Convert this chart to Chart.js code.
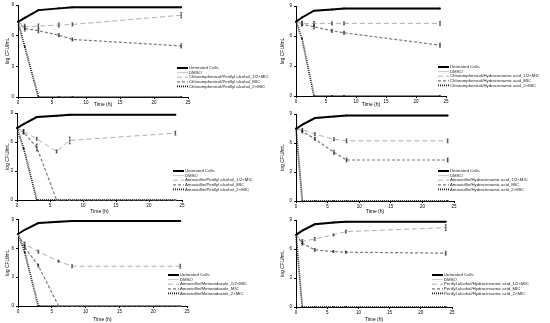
<!DOCTYPE html>
<html>
<head>
<meta charset="utf-8">
<script src="https://cdn.jsdelivr.net/npm/chart.js@4/dist/chart.umd.min.js"></script>
<style>
  body { margin: 0; background: #fff; }
  .p { position: absolute; }
</style>
</head>
<body>
<canvas class="p" id="c1" width="275" height="108" style="left:0;top:0"></canvas>
<canvas class="p" id="c2" width="275" height="108" style="left:275px;top:0"></canvas>
<canvas class="p" id="c3" width="275" height="107" style="left:0;top:108px"></canvas>
<canvas class="p" id="c4" width="275" height="107" style="left:275px;top:108px"></canvas>
<canvas class="p" id="c5" width="275" height="108" style="left:0;top:215px"></canvas>
<canvas class="p" id="c6" width="275" height="108" style="left:275px;top:215px"></canvas>
<script>
// sampling times (h) and axis ticks
const times = [0, 1, 3, 6, 8, 24];
const xTicks = [0, 5, 10, 15, 20, 25];
const yTicks = [0, 3, 6, 9];

const combos = [
  'Chloramphenicol/Perillyl alcohol',
  'Chloramphenicol/Hydrocinnamic acid',
  'Amoxicillin/Perillyl alcohol',
  'Amoxicillin/Hydrocinnamic acid',
  'Amoxicillin/Metronidazole',
  'Perillyl alcohol/Hydrocinnamic acid'
];
const doses = ['_1/2×MIC', '_MIC', '_2×MIC'];

// log CFU/mL
const untreated1 = [7.36, 7.75, 8.5, 8.67, 8.77, 8.77];
const untreated2 = [7.42, 7.85, 8.53, 8.66, 8.76, 8.76];
const untreated3 = [7.44, 7.85, 8.58, 8.72, 8.82, 8.82];
const untreated4 = [7.47, 7.9, 8.58, 8.75, 8.85, 8.85];
const untreated5 = [7.51, 7.95, 8.65, 8.79, 8.86, 8.86];
const untreated6 = [7.46, 7.9, 8.56, 8.73, 8.83, 8.83];

const dmso1 = [7.36, 7.7, 8.45, 8.62, 8.72, 8.72];
const dmso2 = [7.42, 7.8, 8.48, 8.6, 8.71, 8.71];
const dmso3 = [7.44, 7.8, 8.52, 8.67, 8.77, 8.77];
const dmso4 = [7.47, 7.85, 8.52, 8.7, 8.8, 8.8];
const dmso5 = [7.51, 7.9, 8.6, 8.74, 8.81, 8.81];
const dmso6 = [7.46, 7.85, 8.5, 8.68, 8.78, 8.78];

const half1 = [7.36, 6.87, 6.94, 7.03, 7.1, 8.0];
const half2 = [7.42, 7.26, 7.26, 7.26, 7.26, 7.26];
const half3 = [7.44, 7.09, 6.33, 5.02, 6.16, 6.92];
const half4 = [7.47, 7.36, 6.91, 6.39, 6.22, 6.22];
const half5 = [7.51, 6.47, 5.67, 4.67, 4.15, 4.15];
const half6 = [7.46, 6.77, 7.04, 7.46, 7.8, 8.21];

const mic1 = [7.36, 6.7, 6.48, 6.05, 5.63, 5.0];
const mic2 = [7.42, 7.19, 6.92, 6.52, 6.32, 5.08];
const mic3 = [7.44, 7.02, 5.43, 0, 0, 0];
const mic4 = [7.47, 7.19, 6.42, 5.03, 4.24, 4.24];
const mic5 = [7.51, 6.12, 4.22, 0, 0, 0];
const mic6 = [7.46, 6.6, 5.91, 5.74, 5.67, 5.57];

const dbl1 = [7.36, 4.9, 0, 0, 0, 0];
const dbl2 = [7.42, 5.75, 0, 0, 0, 0];
const dbl3 = [7.44, 5.36, 0, 0, 0, 0];
const dbl4 = [7.47, 0, 0, 0, 0, 0];
const dbl5 = [7.51, 5.6, 0, 0, 0, 0];
const dbl6 = [7.46, 0, 0, 0, 0, 0];

// error bars (+/-)
const errHalf1 = [0, 0.25, 0.2, 0.2, 0.15, 0.25];
const errHalf2 = [0, 0.2, 0.2, 0.15, 0.15, 0.2];
const errHalf3 = [0, 0.2, 0.15, 0.15, 0.35, 0.2];
const errHalf4 = [0, 0.15, 0.15, 0.15, 0.2, 0.2];
const errHalf5 = [0, 0.2, 0.15, 0.1, 0.15, 0.2];
const errHalf6 = [0, 0.2, 0.15, 0.1, 0.15, 0.3];
const errMic1 = [0, 0.25, 0.2, 0.15, 0.15, 0.2];
const errMic2 = [0, 0.2, 0.2, 0.15, 0.15, 0.2];
const errMic3 = [0, 0.2, 0.35, 0, 0, 0];
const errMic4 = [0, 0.15, 0.15, 0.2, 0.2, 0.2];
const errMic5 = [0, 0.2, 0.15, 0, 0, 0];
const errMic6 = [0, 0.2, 0.15, 0.1, 0.1, 0.2];

const styles = [
  { color: '#000000', width: 2, dash: [] },
  { color: '#c8c8c8', width: 1, dash: [] },
  { color: '#b0b0b0', width: 1, dash: [5, 3] },
  { color: '#7a7a7a', width: 1.2, dash: [3, 2] },
  { color: '#1e1e1e', width: 1.8, dash: [1, 1] }
];

// canvas id, chart area [left, right, top, bottom], legend [x, y]
const panels = [
  { id: 'c1', area: [18, 188, 5, 97], legend: [177, 68], series: [untreated1, dmso1, half1, mic1, dbl1], errs: [null, null, errHalf1, errMic1, null] },
  { id: 'c2', area: [21, 171, 6, 96], legend: [163, 67], series: [untreated2, dmso2, half2, mic2, dbl2], errs: [null, null, errHalf2, errMic2, null] },
  { id: 'c3', area: [17, 182, 5, 92], legend: [173, 63], series: [untreated3, dmso3, half3, mic3, dbl3], errs: [null, null, errHalf3, errMic3, null] },
  { id: 'c4', area: [21, 179, 6, 93], legend: [163, 63], series: [untreated4, dmso4, half4, mic4, dbl4], errs: [null, null, errHalf4, errMic4, null] },
  { id: 'c5', area: [18, 187, 4, 91], legend: [168, 60], series: [untreated5, dmso5, half5, mic5, dbl5], errs: [null, null, errHalf5, errMic5, null] },
  { id: 'c6', area: [21, 177, 5, 92], legend: [157, 60], series: [untreated6, dmso6, half6, mic6, dbl6], errs: [null, null, errHalf6, errMic6, null] }
];

const FONT = 'Liberation Sans, Arial, sans-serif';

const errorBars = {
  id: 'errorBars',
  afterDatasetsDraw(chart) {
    const ctx = chart.ctx;
    const xs = chart.scales.x, ys = chart.scales.y;
    chart.data.datasets.forEach(ds => {
      if (!ds.err) return;
      ctx.save();
      ctx.strokeStyle = '#000';
      ctx.lineWidth = 0.6;
      ctx.setLineDash([]);
      ds.data.forEach((p, i) => {
        const e = ds.err[i];
        if (!e) return;
        const x = xs.getPixelForValue(p.x);
        const y1 = ys.getPixelForValue(p.y + e), y2 = ys.getPixelForValue(p.y - e);
        ctx.beginPath();
        ctx.moveTo(x, y1); ctx.lineTo(x, y2);
        ctx.moveTo(x - 1, y1); ctx.lineTo(x + 1, y1);
        ctx.moveTo(x - 1, y2); ctx.lineTo(x + 1, y2);
        ctx.stroke();
      });
      ctx.restore();
    });
  }
};

const boxLegend = {
  id: 'boxLegend',
  afterDraw(chart, args, opts) {
    const ctx = chart.ctx;
    ctx.save();
    ctx.font = '4.3px ' + FONT;
    ctx.textBaseline = 'middle';
    chart.data.datasets.forEach((ds, i) => {
      const y = opts.y + i * 4.6;
      ctx.strokeStyle = ds.borderColor;
      ctx.lineWidth = ds.borderWidth;
      ctx.setLineDash(ds.borderDash);
      ctx.beginPath();
      ctx.moveTo(opts.x, y); ctx.lineTo(opts.x + 11, y);
      ctx.stroke();
      ctx.fillStyle = '#222';
      ctx.fillText(ds.label, opts.x + 12, y);
    });
    ctx.restore();
  }
};

panels.forEach((p, k) => {
  const canvas = document.getElementById(p.id);
  const W = canvas.width, H = canvas.height;
  const [left, right, top, bottom] = p.area;
  const names = ['Untreated Cells', 'DMSO'].concat(doses.map(d => combos[k] + d));
  const datasets = p.series.map((vals, i) => ({
    label: names[i],
    data: times.map((t, j) => ({ x: t, y: vals[j] })),
    err: p.errs[i],
    borderColor: styles[i].color,
    backgroundColor: styles[i].color,
    borderWidth: styles[i].width,
    borderDash: styles[i].dash,
    pointRadius: i === 1 ? 0 : 1,
    pointBorderWidth: 0,
    tension: 0,
    clip: 3
  }));
  new Chart(canvas, {
    type: 'line',
    data: { datasets },
    plugins: [errorBars, boxLegend],
    options: {
      responsive: false,
      animation: false,
      layout: { padding: { left: 0, top: top, right: W - right, bottom: 0 } },
      plugins: {
        legend: { display: false },
        tooltip: { enabled: false },
        boxLegend: { x: p.legend[0], y: p.legend[1] }
      },
      scales: {
        x: {
          type: 'linear', min: 0, max: 25,
          afterBuildTicks: s => { s.ticks = xTicks.map(v => ({ value: v })); },
          afterFit: s => { s.height = H - bottom; },
          grid: { display: true, drawOnChartArea: false, tickLength: 2, color: '#000' },
          border: { display: true, color: '#000', width: 1 },
          ticks: { font: { size: 4.5, family: FONT }, color: '#000', padding: 1, maxRotation: 0 },
          title: { display: true, text: 'Time (h)', font: { size: 5, family: FONT }, color: '#000', padding: 0 }
        },
        y: {
          min: 0, max: 9,
          afterBuildTicks: s => { s.ticks = yTicks.map(v => ({ value: v })); },
          afterFit: s => { s.width = left; },
          grid: { display: true, drawOnChartArea: false, tickLength: 2, color: '#000' },
          border: { display: true, color: '#000', width: 1 },
          ticks: { font: { size: 4.5, family: FONT }, color: '#000', padding: 2 },
          title: { display: true, text: 'log CFU/mL', font: { size: 5, family: FONT }, color: '#000', padding: { top: 5, bottom: 0 } }
        }
      }
    }
  });
});
</script>
</body>
</html>
